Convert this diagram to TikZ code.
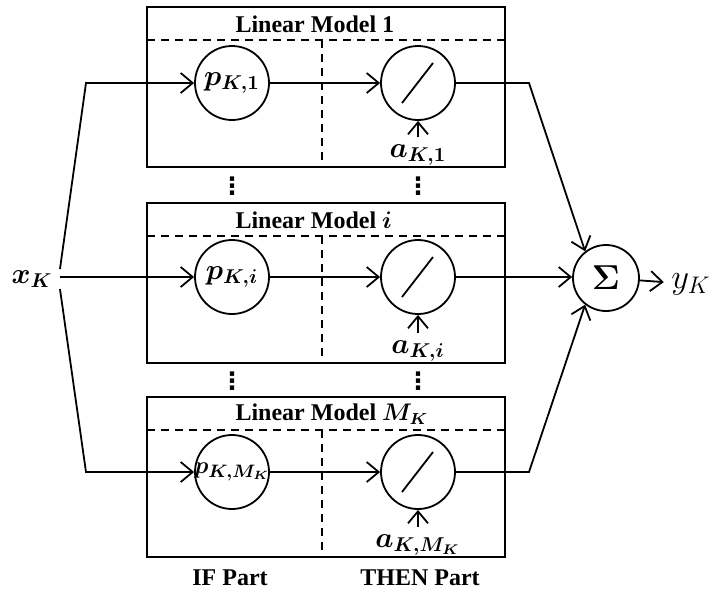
\documentclass[tikz,border=0pt]{standalone}
\usepackage{fontspec}
\setmainfont{Liberation Serif}
\newfontfamily\symfont{DejaVu Sans}
\usepackage{amsmath,bm}
\usetikzlibrary{arrows.meta}

\tikzset{
  unit/.style={draw, circle, minimum size=37pt, inner sep=0pt},
  flow/.style={-{Straight Barb[length=6pt,width=10pt]}},
  part/.style={dashed, dash pattern=on 4pt off 3pt},
  dots/.style={inner sep=0pt, font=\symfont\fontsize{12}{12}\selectfont\bfseries},
}

\begin{document}
\begin{tikzpicture}[x=0.5pt, y=-0.5pt, line width=0.9pt,
    font=\fontsize{12}{14}\selectfont\bfseries]
\useasboundingbox (0,0) rectangle (712,590);
% input and output
\node (x) at (32,279) {\Large$\bm{x_K}$};
\node [draw, circle, minimum size=33pt, inner sep=0pt] (s) at (606,278) {\LARGE$\bm{\Sigma}$};
\node (y) at (691,284) {\LARGE$y_K$};
\draw [flow] (s) -- (y);
% the three linear models
\foreach \row/\y/\top/\name/\idx/\sz in {1/83/7/1/1/\Large, 2/277/203/$\bm{i}$/i/\Large, 3/472/397/$\bm{M_K}$/M_K/\fontsize{13}{15}\selectfont} {
  \draw (147,\top) rectangle (505,\top+160);
  \node [anchor=west] (t\row) at (228,\top+17) {Linear Model \name};
  \draw [part] (147,\top+33) -- (505,\top+33);
  \draw [part] (322,\top+33) -- (322,\top+160);
  \node [unit] (p\row) at (232,\y) {\makebox[0pt]{\sz$\bm{p_{K,\idx}}$}};
  \node [unit] (f\row) at (418,\y) {};
  \draw ([shift={(-16,20)}]f\row.center) -- ([shift={(15,-20)}]f\row.center);
  \node [anchor=base] (a\row) at (418,\top+150) {\Large$\bm{a_{K,\idx}}$};
  \draw [flow] (a\row) -- (f\row);
  \draw [flow] (p\row) -- (f\row);
}
% vertical dots between the models
\node [dots] (v1) at (232,186) {⋮};
\node [dots] (v2) at (418,186) {⋮};
\node [dots] (v3) at (232,381) {⋮};
\node [dots] (v4) at (418,381) {⋮};
% wiring
\coordinate (i1) at (86,83);
\coordinate (i3) at (86,472);
\coordinate (o1) at (529,83);
\coordinate (o3) at (529,472);
\draw [flow] ([yshift=5pt]x.east) -- (i1) -- (p1);
\draw [flow] (x.east |- p2) -- (p2);
\draw [flow] ([yshift=-5pt]x.east) -- (i3) -- (p3);
\draw [flow] (f1) -- (o1) -- (s.128);
\draw [flow] (f2) -- (s.west |- f2);
\draw [flow] (f3) -- (o3) -- (s.232);
% parts
\node (if) at (230,578) {IF Part};
\node (then) at (420,578) {THEN Part};
\end{tikzpicture}
\end{document}
